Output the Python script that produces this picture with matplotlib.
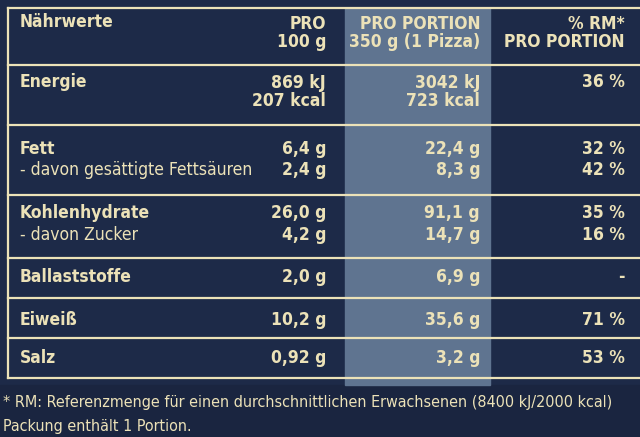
import matplotlib
matplotlib.use("Agg")
import matplotlib.pyplot as plt
from matplotlib.patches import Rectangle

plt.rcParams['font.family'] = ['DejaVu Sans']
plt.rcParams['font.stretch'] = 'condensed'

header = ["Nährwerte", "PRO\n100 g", "PRO PORTION\n350 g (1 Pizza)", "% RM*\nPRO PORTION"]
labels = ["Energie", "Fett", "- davon gesättigte Fettsäuren", "Kohlenhydrate", "- davon Zucker",
          "Ballaststoffe", "Eiweiß", "Salz"]
per100 = ["869 kJ\n207 kcal", "6,4 g", "2,4 g", "26,0 g", "4,2 g", "2,0 g", "10,2 g", "0,92 g"]
portion = ["3042 kJ\n723 kcal", "22,4 g", "8,3 g", "91,1 g", "14,7 g", "6,9 g", "35,6 g", "3,2 g"]
rm = ["36 %", "32 %", "42 %", "35 %", "16 %", "-", "71 %", "53 %"]
bold = [True, True, False, True, False, True, True, True]
row_y = [92, 149, 170, 213, 235, 277, 320, 358]
footnote = ["* RM: Referenzmenge für einen durchschnittlichen Erwachsenen (8400 kJ/2000 kcal)",
            "Packung enthält 1 Portion."]

bg = "#1d2a48"; band = "#5f7490"; txt = "#ece2b8"
fig = plt.figure(figsize=(6.4, 4.37), dpi=100)
ax = fig.add_axes([0, 0, 1, 1])
ax.set_xlim(0, 640); ax.set_ylim(437, 0); ax.axis('off')
fig.patch.set_facecolor(bg)
ax.add_patch(Rectangle((0, 0), 640, 437, color=bg))
ax.add_patch(Rectangle((0, 385), 640, 52, color="#1a2540"))
ax.add_patch(Rectangle((345, 8), 145, 377, color=band))
for y in [8, 65, 125, 195, 258, 298, 338, 378]:
    ax.plot([8, 640], [y, y], color=txt, lw=1.6)
ax.plot([8, 8], [8, 378], color=txt, lw=1.6)

fs = 12.5
kw = dict(color=txt, fontsize=fs, va='center', linespacing=0.95)
ax.text(20, 22, header[0], weight='bold', **kw)
ax.text(326, 33, header[1], weight='bold', ha='right', **kw)
ax.text(480, 33, header[2], weight='bold', ha='right', **kw)
ax.text(625, 33, header[3], weight='bold', ha='right', **kw)
for i in range(len(labels)):
    y = row_y[i]
    ly = 82 if i == 0 else y
    ax.text(20, ly, labels[i], weight='bold' if bold[i] else 'normal', **kw)
    ax.text(625, ly, rm[i], weight='bold', ha='right', **kw)
    ax.text(326, y, per100[i], weight='bold', ha='right', **kw)
    ax.text(480, y, portion[i], weight='bold', ha='right', **kw)
ax.text(3, 403, footnote[0], color=txt, fontsize=11.5, va='center')
ax.text(3, 426, footnote[1], color=txt, fontsize=11.5, va='center')
fig.savefig("out.png", dpi=100, facecolor=bg)
